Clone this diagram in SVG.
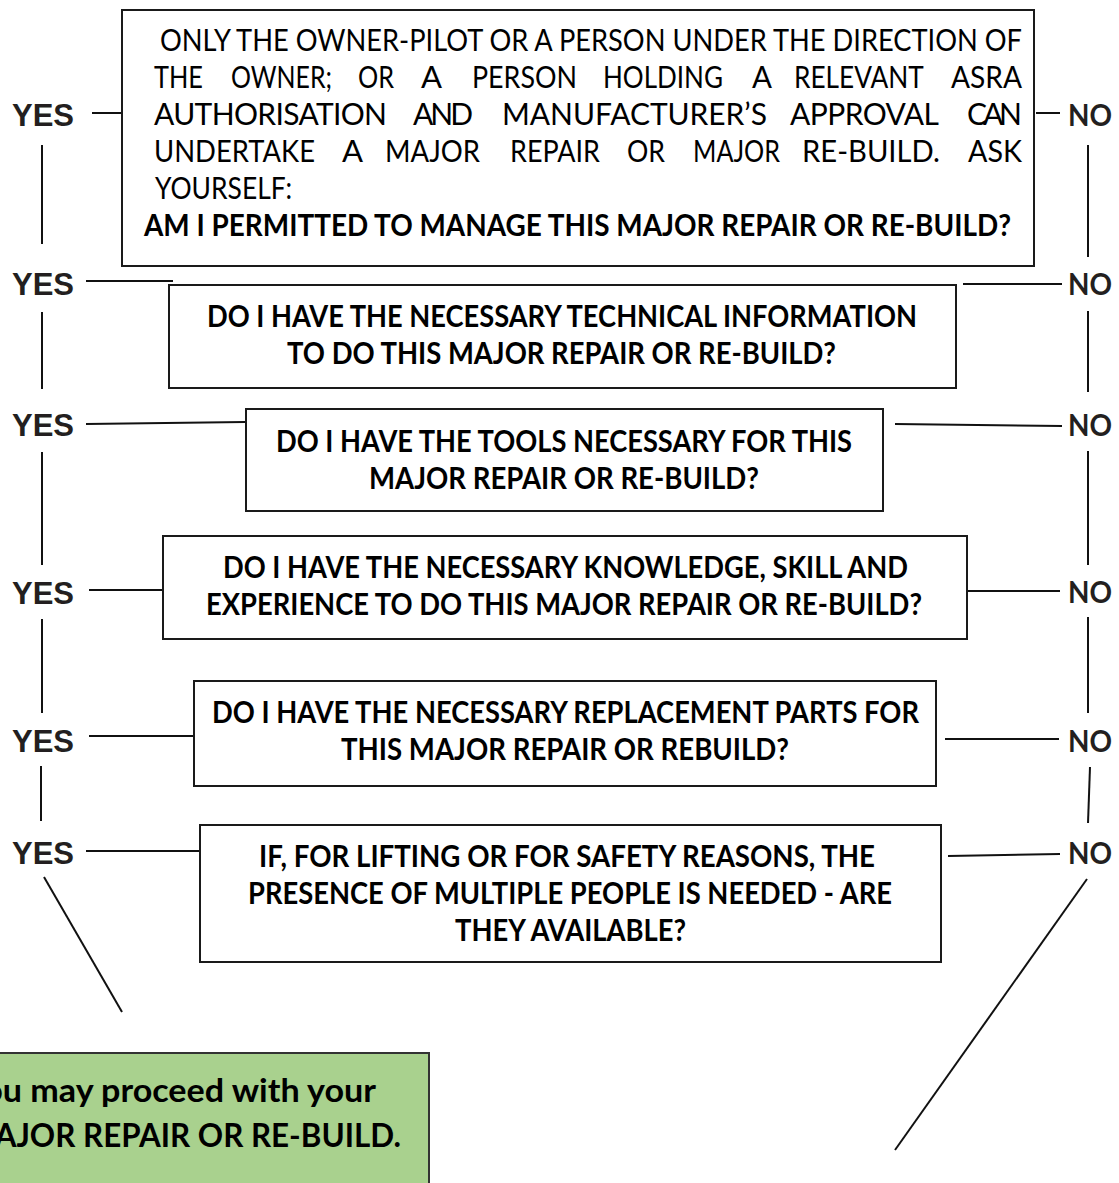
<svg xmlns="http://www.w3.org/2000/svg" width="1119" height="1183" viewBox="0 0 1119 1183">
  <style>
    .box { fill: #ffffff; stroke: #1a1a1a; stroke-width: 2; }
    .go { fill: #a9d18e; stroke: #333333; stroke-width: 2; }
    .wire { stroke: #111111; stroke-width: 2; fill: none; stroke-linecap: butt; }
    .body { font-family: Lato, "Open Sans", "Liberation Sans", sans-serif; font-size: 30px; fill: #000000; }
    .q { font-family: Lato, "Open Sans", "Liberation Sans", sans-serif; font-size: 30px; font-weight: 700; fill: #000000; text-anchor: middle; }
    .go-t { font-family: Lato, "Open Sans", "Liberation Sans", sans-serif; font-size: 33px; font-weight: 700; fill: #000000; }
    .yes { font-family: "Liberation Sans", Arial, sans-serif; font-size: 31px; font-weight: 700; fill: #231f20; }
    .no { font-family: Lato, "Open Sans", "Liberation Sans", sans-serif; font-size: 31px; font-weight: 700; fill: #231f20; }
  </style>

  <!-- connectors between the questions and the YES / NO columns -->
  <g id="connectors">
    <!-- YES column -->
    <line class="wire" x1="92" y1="113" x2="121" y2="113"/>
    <line class="wire" x1="42" y1="145" x2="42" y2="244"/>
    <line class="wire" x1="86" y1="281" x2="173" y2="281"/>
    <line class="wire" x1="42" y1="312" x2="42" y2="389"/>
    <line class="wire" x1="86" y1="424" x2="245" y2="422"/>
    <line class="wire" x1="42" y1="452" x2="42" y2="565"/>
    <line class="wire" x1="89" y1="590" x2="162" y2="590"/>
    <line class="wire" x1="42" y1="619" x2="42" y2="713"/>
    <line class="wire" x1="89" y1="736" x2="193" y2="736"/>
    <line class="wire" x1="41" y1="766" x2="41" y2="821"/>
    <line class="wire" x1="86" y1="851" x2="199" y2="851"/>
    <line class="wire" x1="44" y1="877" x2="122" y2="1012"/>
    <!-- NO column -->
    <line class="wire" x1="1036" y1="113" x2="1060" y2="113"/>
    <line class="wire" x1="1088" y1="145" x2="1088" y2="257"/>
    <line class="wire" x1="963" y1="284" x2="1062" y2="284"/>
    <line class="wire" x1="1088" y1="311" x2="1088" y2="392"/>
    <line class="wire" x1="895" y1="424" x2="1062" y2="426"/>
    <line class="wire" x1="1088" y1="451" x2="1088" y2="565"/>
    <line class="wire" x1="968" y1="591" x2="1060" y2="591"/>
    <line class="wire" x1="1088" y1="617" x2="1088" y2="713"/>
    <line class="wire" x1="945" y1="739" x2="1059" y2="739"/>
    <line class="wire" x1="1090" y1="767" x2="1088" y2="823"/>
    <line class="wire" x1="948" y1="856" x2="1060" y2="854"/>
    <line class="wire" x1="1087" y1="879" x2="895" y2="1150"/>
  </g>

  <!-- YES / NO labels -->
  <g id="yes-labels" class="yes">
    <text x="12" y="126">YES</text>
    <text x="12" y="295">YES</text>
    <text x="12" y="436">YES</text>
    <text x="12" y="604">YES</text>
    <text x="12" y="752">YES</text>
    <text x="12" y="864">YES</text>
  </g>
  <g id="no-labels" class="no">
    <text x="1068" y="126" textLength="44" lengthAdjust="spacingAndGlyphs">NO</text>
    <text x="1068" y="295" textLength="44" lengthAdjust="spacingAndGlyphs">NO</text>
    <text x="1068" y="436" textLength="44" lengthAdjust="spacingAndGlyphs">NO</text>
    <text x="1068" y="603" textLength="44" lengthAdjust="spacingAndGlyphs">NO</text>
    <text x="1068" y="752" textLength="44" lengthAdjust="spacingAndGlyphs">NO</text>
    <text x="1068" y="864" textLength="44" lengthAdjust="spacingAndGlyphs">NO</text>
  </g>

  <!-- Q1: permission -->
  <g id="q1-permission">
    <rect class="box" x="122" y="10" width="912" height="256"/>
    <text class="body" x="160" y="51" textLength="862" lengthAdjust="spacingAndGlyphs">ONLY THE OWNER-PILOT OR A PERSON UNDER THE DIRECTION OF</text>
    <text class="body" y="88">
      <tspan x="154" textLength="49" lengthAdjust="spacingAndGlyphs">THE</tspan>
      <tspan x="231" textLength="101" lengthAdjust="spacingAndGlyphs">OWNER;</tspan>
      <tspan x="358" textLength="36" lengthAdjust="spacingAndGlyphs">OR</tspan>
      <tspan x="421" textLength="20" lengthAdjust="spacingAndGlyphs">A</tspan>
      <tspan x="472" textLength="105" lengthAdjust="spacingAndGlyphs">PERSON</tspan>
      <tspan x="603" textLength="120" lengthAdjust="spacingAndGlyphs">HOLDING</tspan>
      <tspan x="752" textLength="19" lengthAdjust="spacingAndGlyphs">A</tspan>
      <tspan x="794" textLength="129" lengthAdjust="spacingAndGlyphs">RELEVANT</tspan>
      <tspan x="951" textLength="71" lengthAdjust="spacingAndGlyphs">ASRA</tspan>
    </text>
    <text class="body" y="125">
      <tspan x="154" textLength="233" lengthAdjust="spacing">AUTHORISATION</tspan>
      <tspan x="413" textLength="60" lengthAdjust="spacing">AND</tspan>
      <tspan x="502" textLength="265" lengthAdjust="spacing">MANUFACTURER’S</tspan>
      <tspan x="790" textLength="148" lengthAdjust="spacing">APPROVAL</tspan>
      <tspan x="967" textLength="55" lengthAdjust="spacing">CAN</tspan>
    </text>
    <text class="body" y="162">
      <tspan x="154" textLength="161" lengthAdjust="spacingAndGlyphs">UNDERTAKE</tspan>
      <tspan x="342" textLength="20" lengthAdjust="spacingAndGlyphs">A</tspan>
      <tspan x="385" textLength="95" lengthAdjust="spacingAndGlyphs">MAJOR</tspan>
      <tspan x="510" textLength="90" lengthAdjust="spacingAndGlyphs">REPAIR</tspan>
      <tspan x="627" textLength="38" lengthAdjust="spacingAndGlyphs">OR</tspan>
      <tspan x="693" textLength="87" lengthAdjust="spacingAndGlyphs">MAJOR</tspan>
      <tspan x="802" textLength="138" lengthAdjust="spacingAndGlyphs">RE-BUILD.</tspan>
      <tspan x="968" textLength="54" lengthAdjust="spacingAndGlyphs">ASK</tspan>
    </text>
    <text class="body" x="155" y="199" textLength="137" lengthAdjust="spacingAndGlyphs">YOURSELF:</text>
    <text class="q" x="577.5" y="236" textLength="867" lengthAdjust="spacingAndGlyphs">AM I PERMITTED TO MANAGE THIS MAJOR REPAIR OR RE-BUILD?</text>
  </g>

  <!-- Q2: technical information -->
  <g id="q2-information">
    <rect class="box" x="169" y="285" width="787" height="103"/>
    <text class="q" x="562" y="327" textLength="710" lengthAdjust="spacingAndGlyphs">DO I HAVE THE NECESSARY TECHNICAL INFORMATION</text>
    <text class="q" x="561.5" y="364" textLength="549" lengthAdjust="spacingAndGlyphs">TO DO THIS MAJOR REPAIR OR RE-BUILD?</text>
  </g>

  <!-- Q3: tools -->
  <g id="q3-tools">
    <rect class="box" x="246" y="409" width="637" height="102"/>
    <text class="q" x="564" y="452" textLength="576" lengthAdjust="spacingAndGlyphs">DO I HAVE THE TOOLS NECESSARY FOR THIS</text>
    <text class="q" x="564" y="489" textLength="390" lengthAdjust="spacingAndGlyphs">MAJOR REPAIR OR RE-BUILD?</text>
  </g>

  <!-- Q4: knowledge, skill and experience -->
  <g id="q4-experience">
    <rect class="box" x="163" y="536" width="804" height="103"/>
    <text class="q" x="565.5" y="578" textLength="685" lengthAdjust="spacingAndGlyphs">DO I HAVE THE NECESSARY KNOWLEDGE, SKILL AND</text>
    <text class="q" x="564" y="615" textLength="716" lengthAdjust="spacingAndGlyphs">EXPERIENCE TO DO THIS MAJOR REPAIR OR RE-BUILD?</text>
  </g>

  <!-- Q5: replacement parts -->
  <g id="q5-parts">
    <rect class="box" x="194" y="681" width="742" height="105"/>
    <text class="q" x="565.5" y="723" textLength="707" lengthAdjust="spacingAndGlyphs">DO I HAVE THE NECESSARY REPLACEMENT PARTS FOR</text>
    <text class="q" x="565" y="760" textLength="448" lengthAdjust="spacingAndGlyphs">THIS MAJOR REPAIR OR REBUILD?</text>
  </g>

  <!-- Q6: people available -->
  <g id="q6-people">
    <rect class="box" x="200" y="825" width="741" height="137"/>
    <text class="q" x="567" y="867" textLength="616" lengthAdjust="spacingAndGlyphs">IF, FOR LIFTING OR FOR SAFETY REASONS, THE</text>
    <text class="q" x="570" y="904" textLength="644" lengthAdjust="spacingAndGlyphs">PRESENCE OF MULTIPLE PEOPLE IS NEEDED - ARE</text>
    <text class="q" x="570.5" y="941" textLength="231" lengthAdjust="spacingAndGlyphs">THEY AVAILABLE?</text>
  </g>

  <!-- outcome: proceed -->
  <g id="proceed">
    <rect class="go" x="-60" y="1053" width="489" height="160"/>
    <text class="go-t" x="-35" y="1102" textLength="411" lengthAdjust="spacingAndGlyphs">You may proceed with your</text>
    <text class="go-t" x="-35" y="1147" textLength="436" lengthAdjust="spacingAndGlyphs">MAJOR REPAIR OR RE-BUILD.</text>
  </g>
</svg>
